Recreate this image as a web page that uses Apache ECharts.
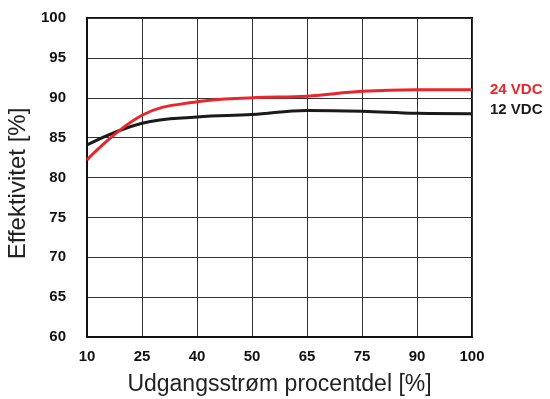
<!DOCTYPE html>
<html>
<head>
<meta charset="utf-8">
<script src="https://cdn.jsdelivr.net/npm/echarts@6/dist/echarts.min.js"></script>
<style>
  html, body { margin: 0; padding: 0; background: #fff; }
  #chart { width: 550px; height: 399px; }
</style>
</head>
<body>
<div id="chart"></div>
<script>
// Output current as percentage of rated load
const loadLevels = ['10', '25', '40', '50', '65', '75', '90', '100'];
// Efficiency (%) at each load level
const eff24 = [82.2, 87.8, 89.5, 90.0, 90.2, 90.8, 91.0, 91.0];
const eff12 = [84.1, 86.8, 87.6, 87.9, 88.4, 88.3, 88.05, 88.0];
const seriesNames = ['24 VDC', '12 VDC'];
const seriesColors = ['#e8262b', '#1a1a1a'];

const chart = echarts.init(document.getElementById('chart'));
const font = 'Liberation Sans, Arial, sans-serif';

chart.setOption({
  animation: false,
  backgroundColor: '#ffffff',
  grid: {
    left: 87, right: 78, top: 18, bottom: 62,
    outerBoundsMode: 'none', containLabel: false,
    show: true, borderColor: '#111', borderWidth: 2
  },
  xAxis: {
    type: 'category',
    data: loadLevels,
    boundaryGap: false,
    name: 'Udgangsstrøm procentdel [%]',
    nameLocation: 'middle',
    nameGap: 36,
    nameTextStyle: { fontFamily: font, fontSize: 23, color: '#222' },
    axisLine: { lineStyle: { color: '#111', width: 2 } },
    axisTick: { show: false },
    axisLabel: { fontFamily: font, fontSize: 15, fontWeight: 'bold', color: '#111', margin: 12 },
    splitLine: { show: true, lineStyle: { color: '#333', width: 1 } }
  },
  yAxis: {
    type: 'value',
    min: 60, max: 100, interval: 5,
    name: 'Effektivitet [%]',
    nameLocation: 'middle',
    nameGap: 54,
    nameTextStyle: { fontFamily: font, fontSize: 24, color: '#222', padding: [0, 12, 0, 0] },
    axisLine: { show: true, lineStyle: { color: '#111', width: 2 } },
    axisTick: { show: false },
    axisLabel: { fontFamily: font, fontSize: 15, fontWeight: 'bold', color: '#111', margin: 21 },
    splitLine: { show: true, lineStyle: { color: '#333', width: 1 } }
  },
  series: [
    {
      name: seriesNames[0],
      type: 'line',
      data: eff24,
      smooth: 0.4,
      symbol: 'none',
      lineStyle: { color: seriesColors[0], width: 3 },
      endLabel: {
        show: true,
        formatter: seriesNames[0],
        distance: 18,
        offset: [0, 0],
        color: seriesColors[0],
        fontFamily: font, fontSize: 15, fontWeight: 'bold'
      },
      z: 3
    },
    {
      name: seriesNames[1],
      type: 'line',
      data: eff12,
      smooth: 0.4,
      symbol: 'none',
      lineStyle: { color: seriesColors[1], width: 3 },
      endLabel: {
        show: true,
        formatter: seriesNames[1],
        distance: 18,
        offset: [0, -4],
        color: seriesColors[1],
        fontFamily: font, fontSize: 15, fontWeight: 'bold'
      },
      z: 2
    }
  ]
});
</script>
</body>
</html>
